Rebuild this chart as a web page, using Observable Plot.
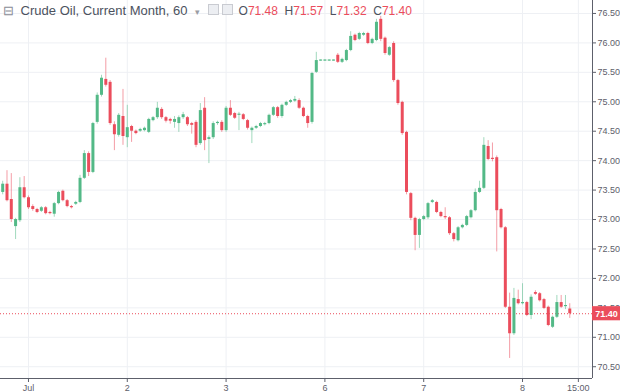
<!DOCTYPE html>
<html><head><meta charset="utf-8">
<script src="https://cdn.jsdelivr.net/npm/d3@7"></script>
<script src="https://cdn.jsdelivr.net/npm/@observablehq/plot@0.6"></script>
<style>
body{margin:0;background:#fff;}
#wrap{position:relative;width:620px;height:392px;overflow:hidden;font-family:"Liberation Sans",Arial,sans-serif;}
#hdr{position:absolute;left:3px;top:3px;font-size:13px;color:#4c525e;white-space:nowrap;line-height:16px;}
#hdr .ic{font-size:13px;color:#8a8d96;margin-right:3px;}
#hdr .caret{font-size:9px;color:#9a9ca3;margin:0 8px 0 7px;}
#hdr .box{display:inline-block;width:9px;height:9px;border:1px solid #c9cbd1;background:#eceef2;margin-right:3px;vertical-align:0px;}
#hdr .k{color:#4c525e;font-size:12px;margin-left:3px;}
#hdr .v{color:#eb4d5c;font-size:12px;}
</style></head><body>
<div id="wrap"><div id="chart"></div><div id="hdr"></div></div>
<script>
const title = "Crude Oil, Current Month, 60";
const open = [73.46,73.60,73.34,72.88,72.98,73.54,73.37,73.22,73.17,73.14,73.20,73.12,73.09,73.27,73.48,73.32,73.22,73.26,73.29,73.70,74.12,73.80,74.65,75.11,75.38,75.33,74.61,74.43,74.75,74.39,74.58,74.50,74.50,74.51,74.48,74.68,74.73,74.87,74.73,74.70,74.65,74.63,74.73,74.73,74.63,74.65,74.29,74.89,74.36,74.39,74.63,74.65,74.51,74.89,74.80,74.77,74.78,74.68,74.51,74.55,74.58,74.61,74.63,74.77,74.90,74.75,74.94,74.99,75.01,75.02,74.89,74.75,74.65,75.50,75.69,75.69,75.69,75.69,75.79,75.67,75.70,75.87,76.13,76.06,76.13,76.16,75.99,76.04,76.40,76.08,75.79,75.99,75.36,74.99,74.48,73.44,73.02,72.73,73.00,73.03,73.29,73.29,73.12,73.05,73.03,72.76,72.64,72.86,72.90,73.03,73.15,73.46,73.53,74.24,74.04,74.05,73.17,72.86,71.51,71.06,71.64,71.57,71.59,71.37,71.76,71.74,71.64,71.51,71.17,71.34,71.59,71.52,71.48];
const high = [73.65,73.83,73.78,73.02,73.71,73.73,73.40,73.25,73.19,73.22,73.22,73.14,73.29,73.48,73.50,73.34,73.24,73.31,73.75,74.17,74.15,74.65,75.15,75.45,75.74,75.36,74.66,74.80,75.21,74.94,74.60,74.52,74.55,74.57,74.72,74.75,74.99,74.90,74.75,74.72,74.75,74.76,74.82,74.75,74.65,74.68,74.97,75.07,74.42,74.66,74.67,74.68,74.92,75.02,74.82,74.82,74.80,74.70,74.57,74.60,74.65,74.65,74.79,74.92,74.92,74.96,75.01,75.04,75.09,75.05,74.91,74.77,75.50,75.84,75.71,75.71,75.71,75.71,75.82,75.74,75.89,76.19,76.15,76.18,76.18,76.18,76.08,76.40,76.45,76.10,75.94,76.02,75.38,75.01,74.50,73.46,73.04,73.02,73.07,73.29,73.34,73.31,73.14,73.20,73.05,72.78,72.88,72.92,73.07,73.17,73.52,73.65,74.39,74.34,74.30,74.08,73.19,72.88,71.75,71.83,71.80,71.91,71.61,71.72,71.79,71.76,71.66,71.53,71.36,71.71,71.71,71.71,71.57];
const low = [73.42,73.30,72.95,72.66,72.95,73.35,73.17,73.14,73.10,73.12,73.08,73.08,73.04,73.25,73.30,73.20,73.18,73.24,73.27,73.68,73.73,73.78,74.62,75.08,75.25,74.60,74.17,74.40,74.26,74.22,74.31,74.44,74.48,74.49,74.46,74.66,74.70,74.70,74.64,74.62,74.55,74.48,74.70,74.58,74.45,74.22,74.26,74.17,73.95,74.36,74.60,74.48,74.48,74.75,74.70,74.51,74.68,74.52,74.29,74.53,74.56,74.59,74.61,74.75,74.72,74.72,74.92,74.97,74.99,74.87,74.73,74.55,74.62,75.48,75.69,75.69,75.69,75.69,75.65,75.65,75.68,75.85,76.02,76.04,76.11,75.97,75.97,76.02,76.02,75.79,75.77,75.33,74.94,74.43,73.42,72.98,72.47,72.51,72.98,73.00,73.27,73.10,73.03,73.00,72.73,72.62,72.62,72.84,72.88,73.01,73.13,73.44,73.51,74.00,73.98,72.45,72.84,71.49,70.64,71.03,71.55,71.55,71.35,71.30,71.71,71.60,71.47,71.18,71.15,71.32,71.49,71.47,71.32];
const close = [73.60,73.32,73.00,73.00,73.54,73.37,73.20,73.17,73.12,73.20,73.10,73.10,73.27,73.46,73.32,73.22,73.20,73.29,73.70,74.12,73.80,74.63,75.11,75.40,75.28,74.63,74.44,74.77,74.41,74.56,74.50,74.46,74.53,74.55,74.70,74.73,74.89,74.73,74.67,74.67,74.70,74.73,74.78,74.61,74.60,74.26,74.85,74.34,74.39,74.63,74.65,74.51,74.89,74.77,74.72,74.79,74.70,74.55,74.55,74.58,74.63,74.63,74.77,74.90,74.75,74.94,74.99,75.02,75.04,74.89,74.75,74.63,75.48,75.70,75.71,75.71,75.71,75.71,75.67,75.72,75.87,76.11,76.04,76.16,76.16,75.99,76.06,76.35,76.06,75.82,75.92,75.36,74.97,74.46,73.46,73.02,72.73,73.00,73.05,73.27,73.32,73.12,73.05,73.03,72.76,72.66,72.86,72.90,73.05,73.15,73.46,73.53,74.26,74.02,74.02,73.15,72.86,71.51,71.06,71.66,71.57,71.59,71.37,71.68,71.73,71.62,71.49,71.20,71.34,71.59,71.51,71.54,71.40];
const xTickIdx = [6, 29, 52, 75, 98, 121, 134];
const xTickLabels = ["Jul", "2", "3", "6", "7", "8", "15:00"];
const yTicks = [70.5, 71.0, 71.5, 72.0, 72.5, 73.0, 73.5, 74.0, 74.5, 75.0, 75.5, 76.0, 76.5];

const GREEN = "#53b987", RED = "#eb4d5c", GRID = "#eef0f4", AXIS = "#5d606b";
const data = open.map((o, i) => ({i, o, h: high[i], l: low[i], c: close[i], up: close[i] >= o}));
const last = data[data.length - 1];
const xMin = -0.512, xMax = 137.29, yMin = 70.30, yMax = 76.72;

const chart = Plot.plot({
  width: 620, height: 392,
  marginLeft: 0, marginRight: 28, marginTop: 0, marginBottom: 14,
  x: {type: "linear", domain: [xMin, xMax]},
  y: {type: "linear", domain: [yMin, yMax]},
  style: {fontFamily: "'Liberation Sans', Arial, sans-serif", fontSize: "9px", color: AXIS, background: "#fff"},
  marks: [
    Plot.ruleY(yTicks, {stroke: GRID}),
    Plot.ruleX(xTickIdx, {stroke: GRID}),
    Plot.ruleY([last.c], {stroke: RED, strokeWidth: 1, strokeDasharray: "1,2"}),
    Plot.ruleX(data, {x: "i", y1: "l", y2: "h", stroke: d => d.up ? GREEN : RED, strokeOpacity: 0.55}),
    Plot.ruleX(data, {x: "i", y1: "o", y2: "c", stroke: d => d.up ? GREEN : RED, strokeWidth: 3}),
    Plot.ruleX([xMax], {stroke: AXIS}),
    Plot.ruleY([yMin], {stroke: AXIS}),
    Plot.axisY({ticks: yTicks, anchor: "right", tickFormat: d => d.toFixed(2), tickSize: 3, tickPadding: 2, label: null, stroke: AXIS, fontSize: 9}),
    Plot.axisX({ticks: xTickIdx, tickFormat: d => xTickLabels[xTickIdx.indexOf(d)], tickSize: 4, tickPadding: 2, label: null, stroke: AXIS, fontSize: 9}),
    Plot.rect([last.c], {x1: () => xMax, x2: () => xMax + 6.6, y1: d => d - 0.12, y2: d => d + 0.12, fill: RED}),
    Plot.text([last.c], {x: () => xMax, y: d => d, text: d => d.toFixed(2), dx: 14, fill: "#fff", fontSize: 9, fontWeight: "bold"})
  ]
});
document.getElementById("chart").appendChild(chart);

const hdr = document.getElementById("hdr");
const f = v => v.toFixed(2);
hdr.innerHTML = `<span class="ic">⊟</span> ${title}<span class="caret">▾</span><span class="box"></span><span class="box"></span>` +
  `<span class="k">O</span><span class="v">${f(last.o)}</span> <span class="k">H</span><span class="v">${f(last.h)}</span> ` +
  `<span class="k">L</span><span class="v">${f(last.l)}</span> <span class="k">C</span><span class="v">${f(last.c)}</span>`;
</script>
</body></html>
